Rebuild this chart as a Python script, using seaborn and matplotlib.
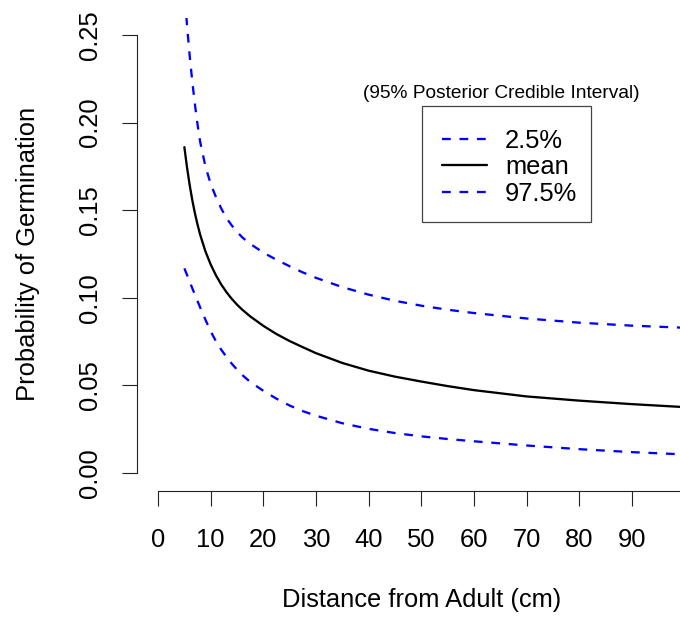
import matplotlib
matplotlib.use("Agg")
import matplotlib.pyplot as plt
from matplotlib.patches import Rectangle
import seaborn as sns
import pandas as pd

# ---- data ----
distance = [5, 5.5, 6, 6.5, 7, 7.5, 8, 9, 10, 11, 12, 13, 14, 15, 16, 17.5,
            20, 22.5, 25, 27.5, 30, 35, 40, 45, 50, 55, 60, 70, 80, 90, 100]
p_mean = [0.186, 0.1745, 0.1645, 0.1558, 0.1483, 0.1418, 0.1360, 0.1265,
          0.1190, 0.1128, 0.1076, 0.1032, 0.0994, 0.0961, 0.0932, 0.0894,
          0.0840, 0.0793, 0.0753, 0.0718, 0.0684, 0.0628, 0.0584, 0.0550,
          0.0522, 0.0496, 0.0473, 0.0437, 0.0413, 0.0393, 0.0376]
p_upper = [0.275, 0.2555, 0.2385, 0.2235, 0.2105, 0.1990, 0.1890, 0.1750,
           0.1650, 0.1575, 0.1510, 0.1455, 0.1413, 0.1377, 0.1345, 0.1308,
           0.1258, 0.1217, 0.1180, 0.1145, 0.1114, 0.1061, 0.1018, 0.0983,
           0.0955, 0.0932, 0.0913, 0.0882, 0.0858, 0.0841, 0.0829]
p_lower = [0.1168, 0.1131, 0.1093, 0.1055, 0.1018, 0.0981, 0.0945, 0.0875,
           0.0808, 0.0752, 0.0704, 0.0662, 0.0624, 0.0590, 0.0559, 0.0520,
           0.0469, 0.0424, 0.0385, 0.0353, 0.0327, 0.0284, 0.0252, 0.0228,
           0.0209, 0.0194, 0.0181, 0.0157, 0.0136, 0.0119, 0.0106]
x_ticks = [0, 10, 20, 30, 40, 50, 60, 70, 80, 90]
y_ticks = [0.00, 0.05, 0.10, 0.15, 0.20, 0.25]
y_tick_labels = ["0.00", "0.05", "0.10", "0.15", "0.20", "0.25"]
legend_labels = ["2.5%", "mean", "97.5%"]
legend_title = "(95% Posterior Credible Interval)"
x_label = "Distance from Adult (cm)"
y_label = "Probability of Germination"

df = pd.DataFrame({"distance": distance, "lower": p_lower,
                   "mean": p_mean, "upper": p_upper})

sns.set_style("white", rc={"text.color": "black", "axes.labelcolor": "black",
                           "xtick.color": "black", "ytick.color": "black"})
plt.rcParams["font.family"] = ["Liberation Sans", "DejaVu Sans"]
plt.rcParams["lines.scale_dashes"] = False

W, H = 680, 622
fig = plt.figure(figsize=(W / 100, H / 100), dpi=100)
ax = fig.add_axes([137 / W, (H - 490.5) / H, 568.5 / W, 473 / H])

dash = (0, (6.3, 6.3))
lw = 1.65
sns.lineplot(data=df, x="distance", y="lower", ax=ax, color="#0000FF",
             linewidth=lw, linestyle=dash, label=legend_labels[0])
sns.lineplot(data=df, x="distance", y="mean", ax=ax, color="black",
             linewidth=lw, label=legend_labels[1])
sns.lineplot(data=df, x="distance", y="upper", ax=ax, color="#0000FF",
             linewidth=lw, linestyle=dash, label=legend_labels[2])

ax.set_xlim(-4, 104)
ax.set_ylim(-0.01, 0.26)
ax.set_xticks(x_ticks)
ax.set_xticklabels([str(t) for t in x_ticks])
ax.set_yticks(y_ticks)
ax.set_yticklabels(y_tick_labels, rotation=90, va="center")

for s in ["top", "right"]:
    ax.spines[s].set_visible(False)
for s in ["left", "bottom"]:
    ax.spines[s].set_color("#222222")
    ax.spines[s].set_linewidth(0.8)
ax.spines["left"].set_bounds(0, 0.25)
ax.spines["bottom"].set_bounds(0, 100)

fs = 18.4
ax.tick_params(axis="both", direction="out", length=10.8, width=0.8,
               color="#222222", labelsize=fs, labelcolor="black")
ax.tick_params(axis="x", pad=16.3)
ax.tick_params(axis="y", pad=14.4)
ax.tick_params(axis="both", which="both", bottom=True, left=True)

ax.set_xlabel(x_label, fontsize=fs, color="black")
ax.set_ylabel(y_label, fontsize=fs, color="black")
ax.xaxis.set_label_coords(0.5, -0.2062)
ax.yaxis.set_label_coords(-0.1715, 0.5)

leg = ax.legend(loc="upper left", bbox_to_anchor=(442 / W, 1 - 128.5 / H),
                bbox_transform=fig.transFigure, borderaxespad=0,
                fontsize=fs, frameon=False,
                handlelength=1.76, handletextpad=0.7, labelspacing=0.11,
                borderpad=0)
for t in leg.get_texts():
    t.set_color("black")

fig.add_artist(Rectangle((422 / W, 1 - 222 / H), (591 - 422) / W,
                         (222 - 106) / H, transform=fig.transFigure,
                         fill=False, edgecolor="#444444", linewidth=0.9))

fig.text(501 / W, 1 - 93 / H, legend_title, ha="center", va="center",
         fontsize=13.8, color="black")

fig.savefig("out.png", dpi=100)
